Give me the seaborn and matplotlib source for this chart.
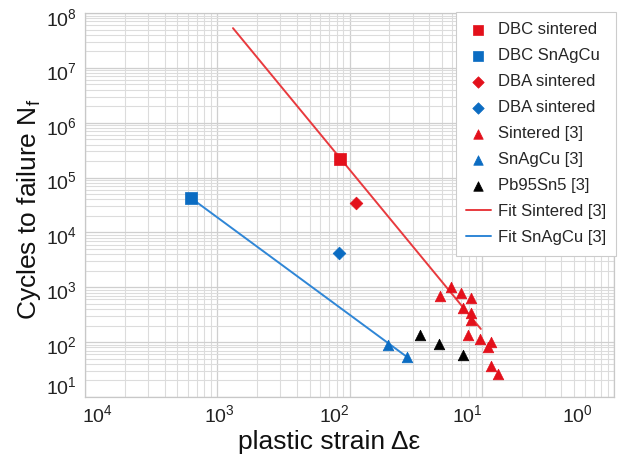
import numpy as np
import pandas as pd
import matplotlib
matplotlib.use("Agg")
import matplotlib.pyplot as plt
import matplotlib.transforms as mtransforms
import seaborn as sns
from matplotlib.ticker import LogLocator, FixedLocator, NullFormatter

# ---- data ----
dbc_sint_x = [8.45e-3]; dbc_sint_y = [2.15e5]
dbc_sac_x = [6.32e-4];  dbc_sac_y = [4.25e4]
dba_sint_x = [1.12e-2]; dba_sint_y = [3.4e4]
dba_sac_x = [8.4e-3];   dba_sac_y = [4.2e3]

sint3_x = [0.0482, 0.0583, 0.0695, 0.0828, 0.0720, 0.0828, 0.0828,
           0.0785, 0.0969, 0.1172, 0.1112, 0.1172, 0.1324]
sint3_y = [693, 1012, 787, 638, 420, 340, 254, 135, 114, 101, 82, 36.7, 26.3]

sac3_x = [0.0195, 0.0272]
sac3_y = [88.7, 53.7]

pb3_x = [0.0340, 0.0475, 0.0720]
pb3_y = [135, 93, 58]

fit_sint_x = [1.315e-3, 0.0984]
fit_sint_y = [5.3e7, 174]
fit_sac_x = [6.32e-4, 0.0272]
fit_sac_y = [4.25e4, 53.7]

x_ticks = [1e-4, 1e-3, 1e-2, 1e-1, 1e0]
x_tick_labels = ["$10^4$", "$10^3$", "$10^2$", "$10^1$", "$10^0$"]
y_ticks = [1e1, 1e2, 1e3, 1e4, 1e5, 1e6, 1e7, 1e8]
y_tick_labels = ["$10^1$", "$10^2$", "$10^3$", "$10^4$", "$10^5$", "$10^6$", "$10^7$", "$10^8$"]

# ---- style ----
sns.set_theme(style="whitegrid")
plt.rcParams['font.family'] = ['Liberation Sans', 'DejaVu Sans']
plt.rcParams['mathtext.fontset'] = 'custom'
plt.rcParams['mathtext.rm'] = 'Liberation Sans'
plt.rcParams['mathtext.it'] = 'Liberation Sans:italic'
plt.rcParams['mathtext.default'] = 'regular'

RED = "#e3101b"
RED_LINE = "#e83a3e"
BLUE = "#0b6cc2"
BLUE_LINE = "#2f86d6"

fig = plt.figure(figsize=(6.2, 4.61), dpi=100)
ax = fig.add_axes([85 / 620, 1 - 397 / 461, 529 / 620, 384 / 461])

def sc(x, y, color, marker, size, label):
    df = pd.DataFrame({"x": x, "y": y})
    sns.scatterplot(data=df, x="x", y="y", color=color, marker=marker, s=size,
                    edgecolor=color, linewidth=0.5, label=label, ax=ax, zorder=4)

def ln(x, y, color, label):
    df = pd.DataFrame({"x": x, "y": y})
    sns.lineplot(data=df, x="x", y="y", color=color, linewidth=1.4, label=label,
                 ax=ax, zorder=3)

ln(fit_sint_x, fit_sint_y, RED_LINE, "Fit Sintered [3]")
ln(fit_sac_x, fit_sac_y, BLUE_LINE, "Fit SnAgCu [3]")
sc(dbc_sint_x, dbc_sint_y, RED, "s", 75, "DBC sintered")
sc(dbc_sac_x, dbc_sac_y, BLUE, "s", 75, "DBC SnAgCu")
sc(dba_sint_x, dba_sint_y, RED, "D", 42, "DBA sintered")
sc(dba_sac_x, dba_sac_y, BLUE, "D", 42, "DBA sintered ")
sc(sint3_x, sint3_y, RED, "^", 58, "Sintered [3]")
sc(sac3_x, sac3_y, BLUE, "^", 58, "SnAgCu [3]")
sc(pb3_x, pb3_y, "black", "^", 58, "Pb95Sn5 [3]")

ax.set_xscale("log")
ax.set_yscale("log")
ax.set_xlim(1e-4, 1e0)
ax.set_ylim(1e1, 1e8)

ax.xaxis.set_major_locator(FixedLocator(x_ticks))
ax.set_xticklabels(x_tick_labels)
ax.yaxis.set_major_locator(FixedLocator(y_ticks))
ax.set_yticklabels(y_tick_labels)
ax.xaxis.set_minor_locator(LogLocator(base=10, subs=np.arange(2, 10), numticks=20))
ax.yaxis.set_minor_locator(LogLocator(base=10, subs=np.arange(2, 10), numticks=20))
ax.xaxis.set_minor_formatter(NullFormatter())
ax.yaxis.set_minor_formatter(NullFormatter())

ax.grid(True, which="major", color="#cfcfcf", linewidth=0.9)
ax.grid(True, which="minor", color="#dcdcdc", linewidth=0.8)
ax.tick_params(axis="both", which="both", length=0, labelsize=14, colors="#222222")
ax.tick_params(axis="x", pad=5)
ax.tick_params(axis="y", pad=6)
for sp in ax.spines.values():
    sp.set_color("#c8c8c8")
    sp.set_linewidth(0.9)
ax.set_facecolor("white")

# nudge tick labels to where the reference shows them (pixel offsets)
x_off_px = [12, 2, -15, -14, -37]
for lab, dx in zip(ax.get_xticklabels(), x_off_px):
    lab.set_transform(lab.get_transform() +
                      mtransforms.ScaledTranslation(dx / 100, 0, fig.dpi_scale_trans))
y_off_px = [12, -3, -3, -3, -3, -3, -3, -4]
for lab, dy in zip(ax.get_yticklabels(), y_off_px):
    lab.set_transform(lab.get_transform() +
                      mtransforms.ScaledTranslation(0, dy / 100, fig.dpi_scale_trans))

ax.set_xlabel("plastic strain Δε", fontsize=19, color="#111111")
ax.set_ylabel("Cycles to failure N$_f$", fontsize=19, color="#111111")
ax.xaxis.set_label_coords(0.461, -0.086)
ax.yaxis.set_label_coords(-0.079, 0.49)

handles, labels = ax.get_legend_handles_labels()
order = ["DBC sintered", "DBC SnAgCu", "DBA sintered", "DBA sintered ",
         "Sintered [3]", "SnAgCu [3]", "Pb95Sn5 [3]", "Fit Sintered [3]", "Fit SnAgCu [3]"]
hmap = dict(zip(labels, handles))
leg = ax.legend([hmap[k] for k in order], [k.strip() for k in order],
                loc="upper right", bbox_to_anchor=(1.004, 1.003), borderaxespad=0,
                fontsize=12, frameon=True, fancybox=False, framealpha=1,
                edgecolor="#cccccc", labelspacing=0.66, handlelength=1.5,
                handletextpad=0.4, borderpad=0.62, markerscale=0.9)
leg.get_frame().set_linewidth(0.8)

fig.savefig("out.png", dpi=100)
